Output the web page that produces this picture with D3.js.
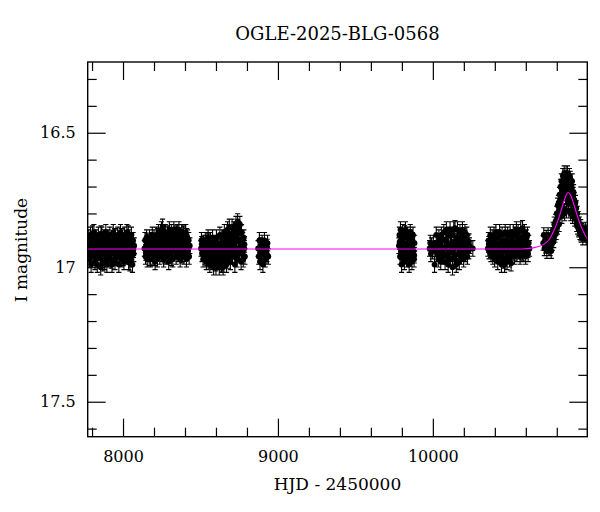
<!DOCTYPE html>
<html>
<head>
<meta charset="utf-8">
<script src="https://cdn.jsdelivr.net/npm/d3@7"></script>
<style>
  body { margin: 0; background: #fff; }
  text { font-family: "DejaVu Serif", serif; fill: #000; }
</style>
</head>
<body>
<div id="lightcurve"></div>
<script>
// photometry per observing season: [HJD - 2450000, I mag]
const season2017 = [
  [7776,16.94],[7779,16.89],[7783,16.97],[7786,16.92],[7790,16.88],[7794,16.99],[7797,16.93],[7801,16.90],[7805,16.96],[7808,16.91],
  [7812,16.87],[7816,16.95],[7819,16.98],[7823,16.92],[7827,16.89],[7830,16.94],[7834,16.99],[7838,16.91],[7841,16.88],[7845,16.96],
  [7849,16.93],[7852,16.90],[7856,17.00],[7860,16.94],[7863,16.88],[7867,16.97],[7871,16.92],[7874,16.89],[7878,16.95],[7882,16.98],
  [7885,16.91],[7889,16.87],[7893,16.94],[7896,16.99],[7900,16.92],[7904,16.89],[7907,16.96],[7911,16.93],[7915,16.88],[7918,16.97],
  [7922,16.91],[7926,16.94],[7929,16.99],[7933,16.90],[7937,16.87],[7940,16.95],[7944,16.92],[7948,16.98],[7951,16.89],[7955,16.94],
  [7959,16.91],[7962,16.96],[7966,16.88],[7970,16.93],[7973,16.99],[7977,16.90],[7981,16.95],[7984,16.87],[7988,16.92],[7992,16.97],
  [7995,16.89],[7999,16.94],[8003,16.91],[8006,16.98],[8010,16.88],[8014,16.93],[8017,16.96],[8021,16.90],[8025,16.87],[8028,16.95],
  [8032,16.92],[8036,16.98],[8039,16.89],[8043,16.94],[8047,16.91],[8050,16.97],[8054,16.88],[8058,16.93],[8061,16.99],[8065,16.90],
  [8069,16.95],[8072,16.92],
  [7781,16.955],[7792,16.915],[7803,16.875],[7814,16.935],[7825,16.965],[7836,16.905],[7847,16.945],[7858,16.875],[7869,16.985],[7880,16.925],
  [7891,16.905],[7902,16.965],[7913,16.935],[7924,16.975],[7935,16.925],[7946,16.885],[7957,16.965],[7968,16.905],[7979,16.935],[7990,16.885],
  [8001,16.965],[8012,16.905],[8023,16.945],[8034,16.875],[8045,16.985],[8056,16.905],[8067,16.935]
];
const season2018 = [
  [8138,16.93],[8142,16.90],[8145,16.96],[8149,16.92],[8152,16.89],[8156,16.97],[8160,16.94],[8163,16.91],[8167,16.95],[8171,16.89],
  [8174,16.93],[8178,16.97],[8182,16.90],[8185,16.94],[8189,16.88],[8193,16.96],[8196,16.92],[8200,16.89],[8204,16.95],[8207,16.98],
  [8211,16.91],[8215,16.88],[8218,16.94],[8222,16.97],[8226,16.90],[8229,16.87],[8233,16.93],[8237,16.96],[8240,16.89],[8244,16.92],
  [8248,16.86],[8251,16.95],[8255,16.85],[8259,16.91],[8262,16.97],[8266,16.88],[8270,16.93],[8273,16.87],[8277,16.96],[8281,16.90],
  [8284,16.94],[8288,16.88],[8292,16.92],[8295,16.98],[8299,16.86],[8303,16.91],[8306,16.95],[8310,16.89],[8314,16.87],[8317,16.93],
  [8321,16.97],[8325,16.90],[8328,16.86],[8332,16.94],[8336,16.91],[8339,16.88],[8343,16.96],[8347,16.92],[8350,16.87],[8354,16.95],
  [8358,16.90],[8361,16.86],[8365,16.93],[8369,16.97],[8372,16.89],[8376,16.92],[8380,16.87],[8383,16.95],[8387,16.91],[8391,16.88],
  [8394,16.96],[8398,16.90],[8402,16.93],[8405,16.87],[8409,16.97],[8413,16.92],[8416,16.89],[8420,16.94],[8424,16.90],[8427,16.96],
  [8431,16.92],
  [8147,16.945],[8158,16.905],[8169,16.965],[8180,16.925],[8191,16.905],[8202,16.965],[8213,16.935],[8224,16.885],[8235,16.945],[8246,16.905],
  [8257,16.875],[8268,16.955],[8279,16.915],[8290,16.875],[8301,16.945],[8312,16.965],[8323,16.885],[8334,16.925],[8345,16.875],[8356,16.935],
  [8367,16.905],[8378,16.955],[8389,16.875],[8400,16.915],[8411,16.885],[8422,16.925]
];
const season2019 = [
  [8503,16.93],[8506,16.90],[8510,16.95],[8513,16.92],[8517,16.97],[8520,16.91],[8524,16.94],[8528,16.96],[8531,16.90],[8535,16.93],
  [8538,16.98],[8542,16.91],[8546,16.95],[8549,16.89],[8553,16.97],[8556,16.93],[8560,16.99],[8564,16.90],[8567,16.95],[8571,16.92],
  [8574,16.98],[8578,16.89],[8582,16.94],[8585,17.00],[8589,16.91],[8592,16.96],[8596,16.93],[8600,17.00],[8603,16.89],[8607,16.95],
  [8610,16.98],[8614,16.91],[8618,16.94],[8621,17.00],[8625,16.88],[8628,16.96],[8632,16.92],[8636,16.99],[8639,16.89],[8643,16.95],
  [8646,17.00],[8650,16.91],[8654,16.87],[8657,16.97],[8661,16.93],[8664,16.89],[8668,16.99],[8672,16.92],[8675,16.86],[8679,16.96],
  [8682,16.90],[8686,16.85],[8690,16.94],[8693,16.98],[8697,16.88],[8700,16.92],[8704,16.85],[8708,16.96],[8711,16.90],[8715,16.86],
  [8718,16.94],[8722,16.99],[8726,16.88],[8729,16.84],[8733,16.93],[8736,16.97],[8740,16.83],[8744,16.90],[8747,16.86],[8751,16.95],
  [8754,16.84],[8758,16.92],[8762,16.98],[8765,16.87],[8769,16.94],[8772,16.90],[8776,16.97],[8780,16.89],[8783,16.93],[8787,16.96],
  [8508,16.915],[8519,16.945],[8530,16.925],[8541,16.965],[8552,16.905],[8563,16.975],[8574,16.935],[8585,16.955],[8596,16.985],[8607,16.915],
  [8618,16.975],[8629,16.935],[8640,16.985],[8651,16.945],[8662,16.905],[8673,16.975],[8684,16.875],[8695,16.935],[8706,16.885],[8717,16.915],
  [8728,16.955],[8739,16.865],[8750,16.905],[8761,16.875],[8772,16.925],[8784,16.915]
];
const season2020 = [
  [8872,16.93],[8876,16.96],[8880,16.90],[8884,16.98],[8889,16.92],[8893,16.95],[8898,16.91],[8903,16.99],[8908,16.94],[8913,16.90],
  [8918,16.97],[8923,16.93],[8928,16.95],[8933,16.91],[8938,16.96],[8886,16.945],[8901,16.925],[8916,16.955],[8930,16.925]
];
const season2022 = [
  [9781,16.92],[9784,16.88],[9788,16.96],[9791,16.86],[9795,16.94],[9798,16.99],[9802,16.90],[9805,16.87],[9809,16.95],[9812,16.92],
  [9816,16.98],[9819,16.89],[9823,16.86],[9826,16.94],[9830,16.97],[9833,16.91],[9837,16.88],[9840,16.96],[9844,16.93],[9847,16.99],
  [9851,16.89],[9854,16.87],[9858,16.95],[9861,16.92],[9865,16.98],[9868,16.90],[9872,16.88],[9875,16.94],[9879,16.97],[9882,16.91],
  [9786,16.905],[9797,16.965],[9807,16.925],[9818,16.875],[9829,16.945],[9839,16.915],[9850,16.965],[9860,16.895],[9871,16.935],[9880,16.955]
];
const season2023 = [
  [9979,16.93],[9983,16.91],[9987,16.95],[9992,16.92],[9997,16.94],[10003,16.91],[10011,16.99],[10016,16.93],[10022,16.88],[10027,16.95],
  [10031,16.91],[10035,16.97],[10039,16.89],[10043,16.94],[10047,16.92],[10051,16.98],[10055,16.88],[10059,16.95],[10063,16.90],[10067,16.96],
  [10071,16.87],[10075,16.93],[10079,16.98],[10083,16.90],[10087,16.86],[10091,16.95],[10095,16.92],[10099,16.99],[10103,16.88],[10107,16.94],
  [10111,16.86],[10115,16.97],[10119,16.91],[10123,16.88],[10127,17.00],[10131,16.93],[10135,16.86],[10139,16.96],[10143,16.855],[10147,16.92],
  [10151,16.99],[10155,16.89],[10159,16.86],[10163,16.95],[10167,16.91],[10171,16.98],[10175,16.87],[10179,16.93],[10183,16.96],[10187,16.89],
  [10191,16.86],[10195,16.94],[10199,16.97],[10203,16.90],[10207,16.87],[10211,16.95],[10215,16.92],[10219,16.88],[10223,16.96],[10227,16.91],
  [10231,16.94],[10236,16.92],[10258,16.93],
  [10041,16.915],[10053,16.945],[10065,16.925],[10077,16.955],[10089,16.905],[10101,16.965],[10113,16.915],[10125,16.945],[10137,16.905],[10149,16.975],
  [10161,16.925],[10173,16.945],[10185,16.915],[10197,16.885],[10209,16.925],[10221,16.935],[10233,16.905]
];
const season2024 = [
  [10355,16.93],[10359,16.90],[10363,16.94],[10367,16.91],[10371,16.88],[10375,16.95],[10379,16.92],[10383,16.89],[10387,16.96],[10391,16.93],
  [10395,16.88],[10399,16.97],[10403,16.91],[10407,16.87],[10411,16.95],[10415,16.92],[10419,16.98],[10423,16.89],[10427,16.94],[10431,16.87],
  [10435,16.96],[10439,16.91],[10443,16.99],[10447,16.88],[10451,16.93],[10455,16.97],[10459,16.90],[10463,16.99],[10467,16.87],[10471,16.94],
  [10475,16.91],[10479,16.98],[10483,16.88],[10487,16.95],[10491,16.92],[10495,16.97],[10499,16.87],[10503,16.93],[10507,16.96],[10511,16.89],
  [10515,16.94],[10519,16.87],[10523,16.91],[10527,16.96],[10531,16.88],[10535,16.93],[10539,16.86],[10543,16.95],[10547,16.90],[10551,16.87],
  [10555,16.94],[10559,16.91],[10563,16.96],[10567,16.86],[10571,16.92],[10575,16.89],[10579,16.855],[10583,16.95],[10587,16.90],[10591,16.87],
  [10595,16.93],[10599,16.96],[10603,16.89],[10607,16.92],[10611,16.88],[10615,16.95],[10619,16.91],[10624,16.93],
  [10361,16.915],[10373,16.935],[10385,16.905],[10397,16.945],[10409,16.925],[10421,16.955],[10433,16.915],[10445,16.945],[10457,16.975],[10469,16.925],
  [10481,16.955],[10493,16.905],[10505,16.985],[10517,16.915],[10529,16.945],[10541,16.905],[10553,16.935],[10565,16.915],[10577,16.945],[10589,16.925],
  [10601,16.905],[10613,16.935]
];
const season2025 = [
  [10712,16.91],[10716,16.88],[10720,16.93],[10724,16.90],[10728,16.92],[10732,16.89],[10736,16.94],[10740,16.91],[10744,16.88],[10748,16.93],
  [10752,16.90],[10756,16.93],[10760,16.89],[10764,16.94],[10768,16.88],[10772,16.91],[10776,16.86],[10780,16.90],[10784,16.84],[10788,16.88],
  [10792,16.83],[10796,16.87],[10800,16.80],[10803,16.85],[10806,16.77],[10809,16.82],[10812,16.76],[10815,16.84],[10818,16.73],[10821,16.79],
  [10824,16.70],[10827,16.77],[10830,16.68],[10833,16.81],[10836,16.72],[10839,16.66],[10842,16.78],[10845,16.70],[10848,16.65],[10851,16.80],
  [10854,16.68],[10857,16.74],[10860,16.65],[10863,16.79],[10866,16.69],[10869,16.65],[10872,16.76],[10875,16.70],[10878,16.79],[10881,16.66],
  [10884,16.73],[10887,16.67],[10890,16.80],[10893,16.70],[10896,16.76],[10899,16.68],[10902,16.81],[10905,16.73],[10908,16.72],[10911,16.79],
  [10914,16.75],[10917,16.82],[10920,16.76],[10923,16.80],[10926,16.78],[10929,16.84],[10932,16.80],[10935,16.85],[10938,16.82],[10942,16.86],
  [10946,16.84],[10950,16.87],[10954,16.85],[10958,16.88],[10963,16.86],[10968,16.89],[10973,16.87],[10978,16.88],[10984,16.86],[10990,16.89],
  [10995,16.87],
  [10730,16.905],[10746,16.915],[10762,16.905],[10778,16.885],[10794,16.855],[10811,16.795],[10826,16.735],[10838,16.745],[10849,16.725],[10858,16.705],
  [10868,16.725],[10877,16.745],[10886,16.705],[10897,16.725],[10907,16.765],[10919,16.795],[10931,16.825],[10944,16.855],[10960,16.865],[10980,16.875]
];
const seasons = [season2017, season2018, season2019, season2020, season2022, season2023, season2024, season2025];
const seasonErrors = [0.029, 0.029, 0.029, 0.029, 0.029, 0.029, 0.029, 0.027];

// microlensing model curve
const modelHjd = [7770, 10575, 10655, 10715, 10750, 10775, 10802, 10825, 10842, 10855, 10865, 10875, 10885, 10895, 10908, 10925, 10948, 10975, 11000];
const modelMag = [16.932, 16.932, 16.927, 16.915, 16.898, 16.872, 16.835, 16.795, 16.762, 16.74, 16.728, 16.722, 16.728, 16.74, 16.762, 16.795, 16.835, 16.872, 16.898];

const xMajorTicks = [8000, 9000, 10000];
const xMinorTicks = [7800, 8200, 8400, 8600, 8800, 9200, 9400, 9600, 9800, 10200, 10400, 10600, 10800];
const yMajorTicks = [16.5, 17, 17.5];
const yMinorTicks = [16.3, 16.4, 16.6, 16.7, 16.8, 16.9, 17.1, 17.2, 17.3, 17.4, 17.6];

var width = 600, height = 512;
var margin = {top: 62, right: 12.7, bottom: 75.3, left: 87.7};
var w = width - margin.left - margin.right;
var h = height - margin.top - margin.bottom;

var x = d3.scaleLinear().domain([7772, 10997]).range([0, w]);
var y = d3.scaleLinear().domain([16.237, 17.63]).range([0, h]);

const svg = d3.select("#lightcurve").append("svg")
    .attr("width", width)
    .attr("height", height);

const g = svg.append("g")
    .attr("transform", `translate(${margin.left},${margin.top})`);

g.append("clipPath").attr("id", "plotclip")
  .append("rect").attr("width", w).attr("height", h);

// data points with error bars
var points = [];
seasons.forEach((s, i) => s.forEach(p => points.push({t: p[0], m: p[1], e: seasonErrors[i]})));

const dots = g.append("g").attr("clip-path", "url(#plotclip)");

dots.append("path")
    .attr("fill", "none")
    .attr("stroke", "#000")
    .attr("stroke-width", 1.1)
    .attr("d", points.map(p => {
        var px = x(p.t), y1 = y(p.m - p.e), y2 = y(p.m + p.e);
        return `M${px},${y1}V${y2}M${px - 2.6},${y1}H${px + 2.6}M${px - 2.6},${y2}H${px + 2.6}`;
    }).join(""));

dots.selectAll("circle")
    .data(points)
    .join("circle")
    .attr("cx", d => x(d.t))
    .attr("cy", d => y(d.m))
    .attr("r", 2.9)
    .attr("fill", "#000");

// model
var line = d3.line()
    .x((d, i) => x(modelHjd[i]))
    .y(d => y(d))
    .curve(d3.curveMonotoneX);

g.append("path")
    .attr("clip-path", "url(#plotclip)")
    .attr("fill", "none")
    .attr("stroke", "#ff00ff")
    .attr("stroke-width", 1.1)
    .attr("d", line(modelMag));

// axes, ticks pointing inwards on all four sides
function styleAxis(sel) {
    sel.select(".domain").remove();
    sel.selectAll(".tick line").attr("stroke", "#000").attr("stroke-width", 1.2);
    sel.selectAll("text").style("font-family", "DejaVu Serif").style("font-size", "16px").attr("fill", "#000");
}

g.append("g").attr("transform", `translate(0,${h})`)
    .call(d3.axisBottom(x).tickValues(xMajorTicks).tickSize(-18).tickPadding(14).tickFormat(d3.format("d")))
    .call(styleAxis);
g.append("g").attr("transform", `translate(0,${h})`)
    .call(d3.axisBottom(x).tickValues(xMinorTicks).tickSize(-9).tickFormat(""))
    .call(styleAxis);
g.append("g")
    .call(d3.axisTop(x).tickValues(xMajorTicks).tickSize(-18).tickFormat(""))
    .call(styleAxis);
g.append("g")
    .call(d3.axisTop(x).tickValues(xMinorTicks).tickSize(-9).tickFormat(""))
    .call(styleAxis);

g.append("g")
    .call(d3.axisLeft(y).tickValues(yMajorTicks).tickSize(-18).tickPadding(12).tickFormat(d3.format("")))
    .call(styleAxis);
g.append("g")
    .call(d3.axisLeft(y).tickValues(yMinorTicks).tickSize(-9).tickFormat(""))
    .call(styleAxis);
g.append("g").attr("transform", `translate(${w},0)`)
    .call(d3.axisRight(y).tickValues(yMajorTicks).tickSize(-18).tickFormat(""))
    .call(styleAxis);
g.append("g").attr("transform", `translate(${w},0)`)
    .call(d3.axisRight(y).tickValues(yMinorTicks).tickSize(-9).tickFormat(""))
    .call(styleAxis);

g.append("rect")
    .attr("width", w)
    .attr("height", h)
    .attr("fill", "none")
    .attr("stroke", "#000")
    .attr("stroke-width", 1.4);

// labels
svg.append("text")
    .attr("x", margin.left + w / 2)
    .attr("y", 40)
    .attr("text-anchor", "middle")
    .style("font-size", "18px")
    .text("OGLE-2025-BLG-0568");

svg.append("text")
    .attr("x", margin.left + w / 2)
    .attr("y", 490)
    .attr("text-anchor", "middle")
    .style("font-size", "17px")
    .text("HJD - 2450000");

svg.append("text")
    .attr("transform", `translate(27,${margin.top + 188}) rotate(-90)`)
    .attr("text-anchor", "middle")
    .style("font-size", "17px")
    .text("I magnitude");
</script>
</body>
</html>
